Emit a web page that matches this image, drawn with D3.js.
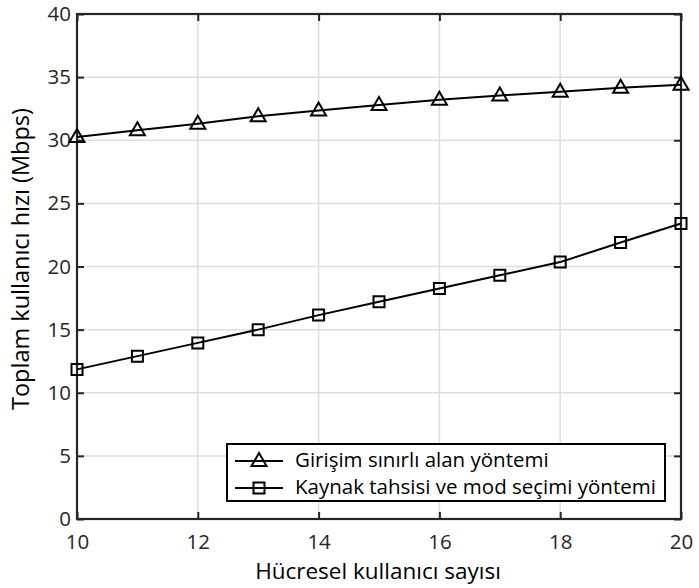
<!DOCTYPE html>
<html>
<head>
<meta charset="utf-8">
<script src="https://cdn.jsdelivr.net/npm/d3@7"></script>
<style>
  html, body { margin: 0; padding: 0; background: #fff; }
  svg { display: block; }
  text { font-family: "Open Sans", "Noto Sans", sans-serif; }
</style>
</head>
<body>
<svg id="chart" width="699" height="588"></svg>
<script>
// Number of cellular users on the x axis
const users = [10, 11, 12, 13, 14, 15, 16, 17, 18, 19, 20];
// Total user throughput (Mbps) for each method
const interferenceLimited = [30.25, 30.8, 31.3, 31.9, 32.35, 32.8, 33.2, 33.55, 33.85, 34.15, 34.4];
const allocationModeSelect = [11.85, 12.9, 13.95, 15.0, 16.15, 17.2, 18.25, 19.3, 20.35, 21.9, 23.4];
const xTicks = [10, 12, 14, 16, 18, 20];
const yTicks = [0, 5, 10, 15, 20, 25, 30, 35, 40];
const seriesNames = ["Girişim sınırlı alan yöntemi", "Kaynak tahsisi ve mod seçimi yöntemi"];
const xTitle = "Hücresel kullanıcı sayısı";
const yTitle = "Toplam kullanıcı hızı (Mbps)";

const svg = d3.select("#chart");
const L = 77, R = 681, T = 14, B = 519;
const axisColor = "#262626";

const x = d3.scaleLinear().domain([10, 20]).range([L, R]);
const y = d3.scaleLinear().domain([0, 40]).range([B, T]);

// grid
const grid = svg.append("g");
grid.selectAll("line.gx").data(xTicks).join("line")
  .attr("x1", d => x(d)).attr("x2", d => x(d))
  .attr("y1", T).attr("y2", B)
  .attr("stroke", "#dedede").attr("stroke-width", 1.5);
grid.selectAll("line.gy").data(yTicks).join("line")
  .attr("x1", L).attr("x2", R)
  .attr("y1", d => y(d)).attr("y2", d => y(d))
  .attr("stroke", "#dedede").attr("stroke-width", 1.5);

// axes with inward ticks on all four sides
const tickLen = 7;
function styleAxis(g) {
  g.select(".domain").remove();
  g.selectAll(".tick line").attr("stroke", axisColor).attr("stroke-width", 2);
  g.selectAll(".tick text").attr("fill", axisColor).attr("font-size", 20.5);
}
svg.append("g").attr("transform", `translate(0,${B})`)
  .call(d3.axisBottom(x).tickValues(xTicks).tickSizeInner(-tickLen).tickSizeOuter(0).tickPadding(15))
  .call(styleAxis);
svg.append("g").attr("transform", `translate(0,${T})`)
  .call(d3.axisTop(x).tickValues(xTicks).tickSizeInner(-tickLen).tickSizeOuter(0).tickFormat(""))
  .call(styleAxis);
svg.append("g").attr("transform", `translate(${L},0)`)
  .call(d3.axisLeft(y).tickValues(yTicks).tickSizeInner(-tickLen).tickSizeOuter(0).tickPadding(6))
  .call(styleAxis);
svg.append("g").attr("transform", `translate(${R},0)`)
  .call(d3.axisRight(y).tickValues(yTicks).tickSizeInner(-tickLen).tickSizeOuter(0).tickFormat(""))
  .call(styleAxis);

// plot box
svg.append("rect").attr("x", L).attr("y", T).attr("width", R - L).attr("height", B - T)
  .attr("fill", "none").attr("stroke", axisColor).attr("stroke-width", 2.2);

// series
const line = d3.line().x((d, i) => x(users[i])).y(d => y(d));
const triPath = "M0,-8 L7.5,5 L-7.5,5 Z";
const sqPath = "M-5.5,-5.5 H5.5 V5.5 H-5.5 Z";
const series = [
  { values: interferenceLimited, marker: triPath, name: seriesNames[0] },
  { values: allocationModeSelect, marker: sqPath, name: seriesNames[1] }
];
series.forEach(s => {
  svg.append("path").datum(s.values).attr("d", line)
    .attr("fill", "none").attr("stroke", "#000").attr("stroke-width", 2);
  svg.append("g").selectAll("path").data(s.values).join("path")
    .attr("d", s.marker)
    .attr("transform", (d, i) => `translate(${x(users[i])},${y(d)})`)
    .attr("fill", "none").attr("stroke", "#000").attr("stroke-width", 2);
});

// legend
const lg = svg.append("g");
lg.append("rect").attr("x", 227).attr("y", 444).attr("width", 438).attr("height", 57)
  .attr("fill", "#fff").attr("stroke", "#000").attr("stroke-width", 2);
series.forEach((s, i) => {
  const cy = 461 + i * 27;
  lg.append("line").attr("x1", 235).attr("x2", 283).attr("y1", cy).attr("y2", cy)
    .attr("stroke", "#000").attr("stroke-width", 2);
  lg.append("path").attr("d", s.marker).attr("transform", `translate(259,${cy})`)
    .attr("fill", "none").attr("stroke", "#000").attr("stroke-width", 2);
  lg.append("text").attr("x", 295).attr("y", cy + 6).attr("font-size", 20.5)
    .attr("fill", "#000").text(s.name);
});

// axis titles
svg.append("text").attr("x", 378).attr("y", 579).attr("text-anchor", "middle")
  .attr("font-size", 22.5).attr("fill", "#000").text(xTitle);
svg.append("text").attr("transform", "translate(29,259) rotate(-90)")
  .attr("text-anchor", "middle").attr("font-size", 23.5).attr("fill", "#000").text(yTitle);
</script>
</body>
</html>
